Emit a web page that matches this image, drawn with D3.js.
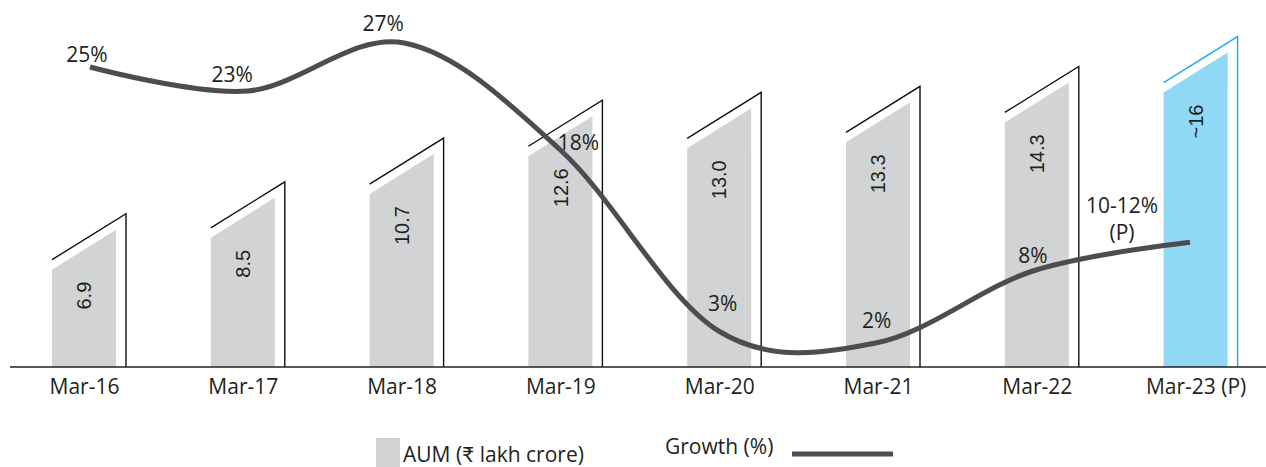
<!DOCTYPE html>
<html>
<head>
<meta charset="utf-8">
<script src="https://cdn.jsdelivr.net/npm/d3@7"></script>
<style>
  body { margin: 0; background: #fff; }
  svg { display: block; }
</style>
</head>
<body>
<svg id="chart" width="1266" height="467"></svg>
<script>
// data
const categories = ['Mar-16', 'Mar-17', 'Mar-18', 'Mar-19', 'Mar-20', 'Mar-21', 'Mar-22', 'Mar-23 (P)'];
const aum = [6.9, 8.5, 10.7, 12.6, 13.0, 13.3, 14.3, 15.8];
const aumLabels = ['6.9', '8.5', '10.7', '12.6', '13.0', '13.3', '14.3', '~16'];
const growth = [25, 23, 27, 18, 3, 2, 8, 10.4];
const growthLabels = [['25%'], ['23%'], ['27%'], ['18%'], ['3%'], ['2%'], ['8%'], ['10-12%', '(P)']];
const projected = [false, false, false, false, false, false, false, true];

// label nudges [dx, dy] from the line point
const labelNudge = [[-3, -5], [-15, -9], [-21, -12], [17, -1], [4, -20], [1, -15], [0, -8], [-68, -29]];

const svg = d3.select('#chart');
const baseY = 367;
const barW = 64;
const slant = 40;
const font = '"Open Sans", Lato, sans-serif';

const x = d3.scalePoint().domain(categories).range([84, 1195.6]);
const xLine = d3.scalePoint().domain(categories).range([90, 1190]);
const y = d3.scaleLinear().domain([0, 16]).range([baseY, baseY - 16 * 19.9]);
const yG = d3.scaleLinear().domain([2, 27]).range([343, 43]);

const rows = categories.map((c, i) => ({ c, v: aum[i], label: aumLabels[i], p: projected[i] }));

// 1. bars
const bars = svg.append('g').selectAll('g').data(rows).enter().append('g');

bars.append('path')
    .attr('d', d => {
        const x0 = x(d.c) - barW / 2, x1 = x(d.c) + barW / 2, top = y(d.v);
        return `M${x0},${baseY}L${x0},${top + slant}L${x1},${top}L${x1},${baseY}Z`;
    })
    .style('fill', d => d.p ? '#8fd8f6' : '#d1d3d4');

bars.append('path')
    .attr('d', d => {
        const x0 = x(d.c) - barW / 2, x1 = x(d.c) + barW / 2 + 10, top = y(d.v);
        return `M${x0},${top + slant - 10}L${x1},${top - 16}L${x1},${baseY}`;
    })
    .style('fill', 'none')
    .style('stroke', d => d.p ? '#1aaee8' : '#111')
    .style('stroke-width', 1.4);

bars.append('text')
    .attr('transform', d => `translate(${x(d.c)},${y(d.v) + slant + 12}) rotate(-90)`)
    .attr('text-anchor', 'end')
    .attr('dy', '0.36em')
    .text(d => d.label)
    .style('font-family', '"Liberation Sans", Arial, sans-serif')
    .style('font-size', '20px')
    .style('fill', '#231f20');

// 2. baseline + axis labels
svg.append('line')
    .attr('x1', 10).attr('x2', 1266)
    .attr('y1', baseY).attr('y2', baseY)
    .style('stroke', '#231f20')
    .style('stroke-width', 1.5);

const axis = svg.append('g')
    .attr('transform', `translate(0,${baseY})`)
    .call(d3.axisBottom(x).tickSize(0).tickPadding(12));
axis.select('.domain').remove();
axis.selectAll('text')
    .style('font-family', font)
    .style('font-size', '21px')
    .style('fill', '#231f20');

// 3. growth line
const pts = growth.map((g, i) => [xLine(categories[i]), yG(g)]);
svg.append('path')
    .attr('d', d3.line().curve(d3.curveCatmullRom.alpha(0))(pts))
    .style('fill', 'none')
    .style('stroke', '#4d4d4f')
    .style('stroke-width', 5);

const gl = svg.append('g').selectAll('text').data(growthLabels).enter().append('text')
    .attr('x', (d, i) => pts[i][0] + labelNudge[i][0])
    .attr('y', (d, i) => pts[i][1] + labelNudge[i][1])
    .attr('text-anchor', 'middle')
    .style('font-family', font)
    .style('font-size', '21px')
    .style('fill', '#231f20');

gl.selectAll('tspan').data(d => d).enter().append('tspan')
    .attr('x', function() { return this.parentNode.getAttribute('x'); })
    .attr('dy', (d, j) => j === 0 ? 0 : 27)
    .text(d => d);

// 4. legend
const legend = svg.append('g');
legend.append('rect')
    .attr('x', 376).attr('y', 438).attr('width', 24).attr('height', 30)
    .style('fill', '#d1d3d4');
legend.append('text')
    .attr('x', 403).attr('y', 462)
    .text('AUM (₹ lakh crore)')
    .style('font-family', font)
    .style('font-size', '21px')
    .style('fill', '#231f20');
legend.append('text')
    .attr('x', 665).attr('y', 454)
    .text('Growth (%)')
    .style('font-family', font)
    .style('font-size', '21px')
    .style('fill', '#231f20');
legend.append('line')
    .attr('x1', 792).attr('x2', 893)
    .attr('y1', 454).attr('y2', 454)
    .style('stroke', '#4d4d4f')
    .style('stroke-width', 5);
</script>
</body>
</html>
